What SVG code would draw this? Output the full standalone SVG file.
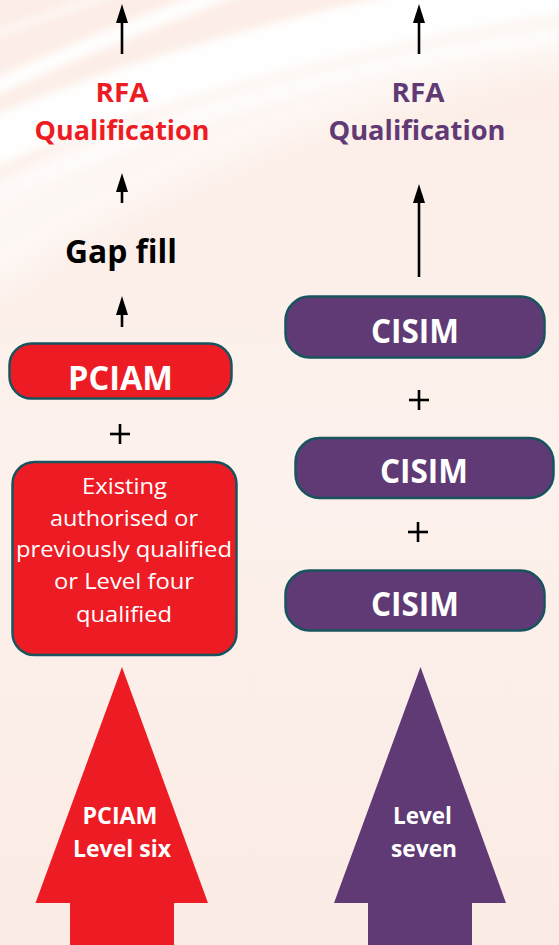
<svg xmlns="http://www.w3.org/2000/svg" width="559" height="945" viewBox="0 0 559 945">
<defs>
<linearGradient id="bg" x1="0" y1="0" x2="0" y2="1">
<stop offset="0" stop-color="#FCEDE6"/>
<stop offset="0.5" stop-color="#FCF1EC"/>
<stop offset="1" stop-color="#FBEBE4"/>
</linearGradient>
<filter id="soft" x="-20%" y="-20%" width="140%" height="140%">
<feGaussianBlur stdDeviation="4"/>
</filter>
<filter id="softer" x="-20%" y="-20%" width="140%" height="140%">
<feGaussianBlur stdDeviation="14"/>
</filter>
<marker id="ah" viewBox="0 0 19 12" markerWidth="19" markerHeight="12" refX="9" refY="6" orient="auto" markerUnits="userSpaceOnUse">
<path d="M0,0 L19,6 L0,12 z" fill="#000"/>
</marker>
</defs>
<style>
.bold{font-family:"Open Sans","Noto Sans","DejaVu Sans",sans-serif;font-weight:700;text-anchor:middle}
.reg{font-family:"Open Sans","Noto Sans","DejaVu Sans",sans-serif;font-weight:400;text-anchor:middle;fill:#fff;font-size:22px}
.red{fill:#ED1C24}
.pur{fill:#603A75}
.box{stroke:#17545E;stroke-width:2.5}
.conn{stroke:#000;stroke-width:2.6;fill:none;marker-end:url(#ah)}
.plus{stroke:#000;stroke-width:2.6}
.wt{fill:#fff}
</style>
<rect width="559" height="945" fill="url(#bg)"/>
<g id="background" fill="none" stroke="#fff">
<path d="M-40,260 Q240,70 620,10" stroke-width="90" opacity="0.5" filter="url(#softer)"/>
<path d="M-20,40 Q60,10 130,-12" stroke-width="5" opacity="0.9" filter="url(#soft)"/>
<path d="M-30,98 Q120,30 260,-20" stroke-width="16" opacity="0.95" filter="url(#soft)"/>
<path d="M-40,155 Q250,30 620,-20" stroke-width="48" opacity="0.97" filter="url(#soft)"/>
<path d="M-40,210 Q280,60 620,30" stroke-width="20" opacity="0.5" filter="url(#soft)"/>
</g>
<g id="connectors">
<line class="conn" x1="122" y1="54" x2="122" y2="14"/>
<line class="conn" x1="419" y1="54" x2="419" y2="14"/>
<line class="conn" x1="122" y1="203" x2="122" y2="183"/>
<line class="conn" x1="419" y1="277" x2="419" y2="194"/>
<line class="conn" x1="122" y1="327" x2="122" y2="306"/>
</g>
<g id="rfa-left">
<text class="bold red" x="122" y="102" font-size="26" textLength="53" lengthAdjust="spacingAndGlyphs">RFA</text>
<text class="bold red" x="122" y="140" font-size="26" textLength="175" lengthAdjust="spacingAndGlyphs">Qualification</text>
</g>
<g id="rfa-right">
<text class="bold pur" x="418" y="102" font-size="26" textLength="53" lengthAdjust="spacingAndGlyphs">RFA</text>
<text class="bold pur" x="417" y="140" font-size="26" textLength="177" lengthAdjust="spacingAndGlyphs">Qualification</text>
</g>
<g id="gap-fill">
<text class="bold" x="121" y="263" font-size="33" fill="#000" textLength="112" lengthAdjust="spacingAndGlyphs">Gap fill</text>
</g>
<g id="pciam">
<rect class="box red" x="9.5" y="343.5" width="222" height="55" rx="22"/>
<text class="bold wt" x="120.5" y="390" font-size="34" textLength="105" lengthAdjust="spacingAndGlyphs">PCIAM</text>
</g>
<g id="plus-left">
<line class="plus" x1="110" y1="434" x2="130" y2="434"/>
<line class="plus" x1="120" y1="424" x2="120" y2="444"/>
</g>
<g id="existing">
<rect class="box red" x="12.5" y="462" width="224" height="193" rx="22"/>
<text class="reg" x="124.5" y="494" textLength="85" lengthAdjust="spacingAndGlyphs">Existing</text>
<text class="reg" x="124" y="526" textLength="148" lengthAdjust="spacingAndGlyphs">authorised or</text>
<text class="reg" x="124" y="557" textLength="216" lengthAdjust="spacingAndGlyphs">previously qualified</text>
<text class="reg" x="124" y="589" textLength="140" lengthAdjust="spacingAndGlyphs">or Level four</text>
<text class="reg" x="124" y="622" textLength="96" lengthAdjust="spacingAndGlyphs">qualified</text>
</g>
<g id="cisim-1">
<rect class="box pur" x="285.5" y="296.5" width="259" height="61" rx="24"/>
<text class="bold wt" x="415" y="343" font-size="34" textLength="88" lengthAdjust="spacingAndGlyphs">CISIM</text>
</g>
<g id="plus-right-1">
<line class="plus" x1="409" y1="400" x2="429" y2="400"/>
<line class="plus" x1="419" y1="390" x2="419" y2="410"/>
</g>
<g id="cisim-2">
<rect class="box pur" x="295.5" y="438" width="258" height="60" rx="24"/>
<text class="bold wt" x="424" y="483" font-size="34" textLength="88" lengthAdjust="spacingAndGlyphs">CISIM</text>
</g>
<g id="plus-right-2">
<line class="plus" x1="408" y1="532" x2="428" y2="532"/>
<line class="plus" x1="418" y1="522" x2="418" y2="542"/>
</g>
<g id="cisim-3">
<rect class="box pur" x="285.5" y="570.5" width="259" height="60" rx="24"/>
<text class="bold wt" x="415" y="616" font-size="34" textLength="88" lengthAdjust="spacingAndGlyphs">CISIM</text>
</g>
<g id="arrow-level-six">
<polygon class="red" points="122,667 208,903 174,903 174,945 70,945 70,903 35.5,903"/>
<text class="bold wt" x="120" y="824" font-size="23" textLength="75" lengthAdjust="spacingAndGlyphs">PCIAM</text>
<text class="bold wt" x="122" y="857" font-size="23" textLength="98" lengthAdjust="spacingAndGlyphs">Level six</text>
</g>
<g id="arrow-level-seven">
<polygon class="pur" points="420.5,667 506,903 472,903 472,945 368,945 368,903 334,903"/>
<text class="bold wt" x="422.5" y="824" font-size="23" textLength="59" lengthAdjust="spacingAndGlyphs">Level</text>
<text class="bold wt" x="424" y="857" font-size="23" textLength="66" lengthAdjust="spacingAndGlyphs">seven</text>
</g>
</svg>
